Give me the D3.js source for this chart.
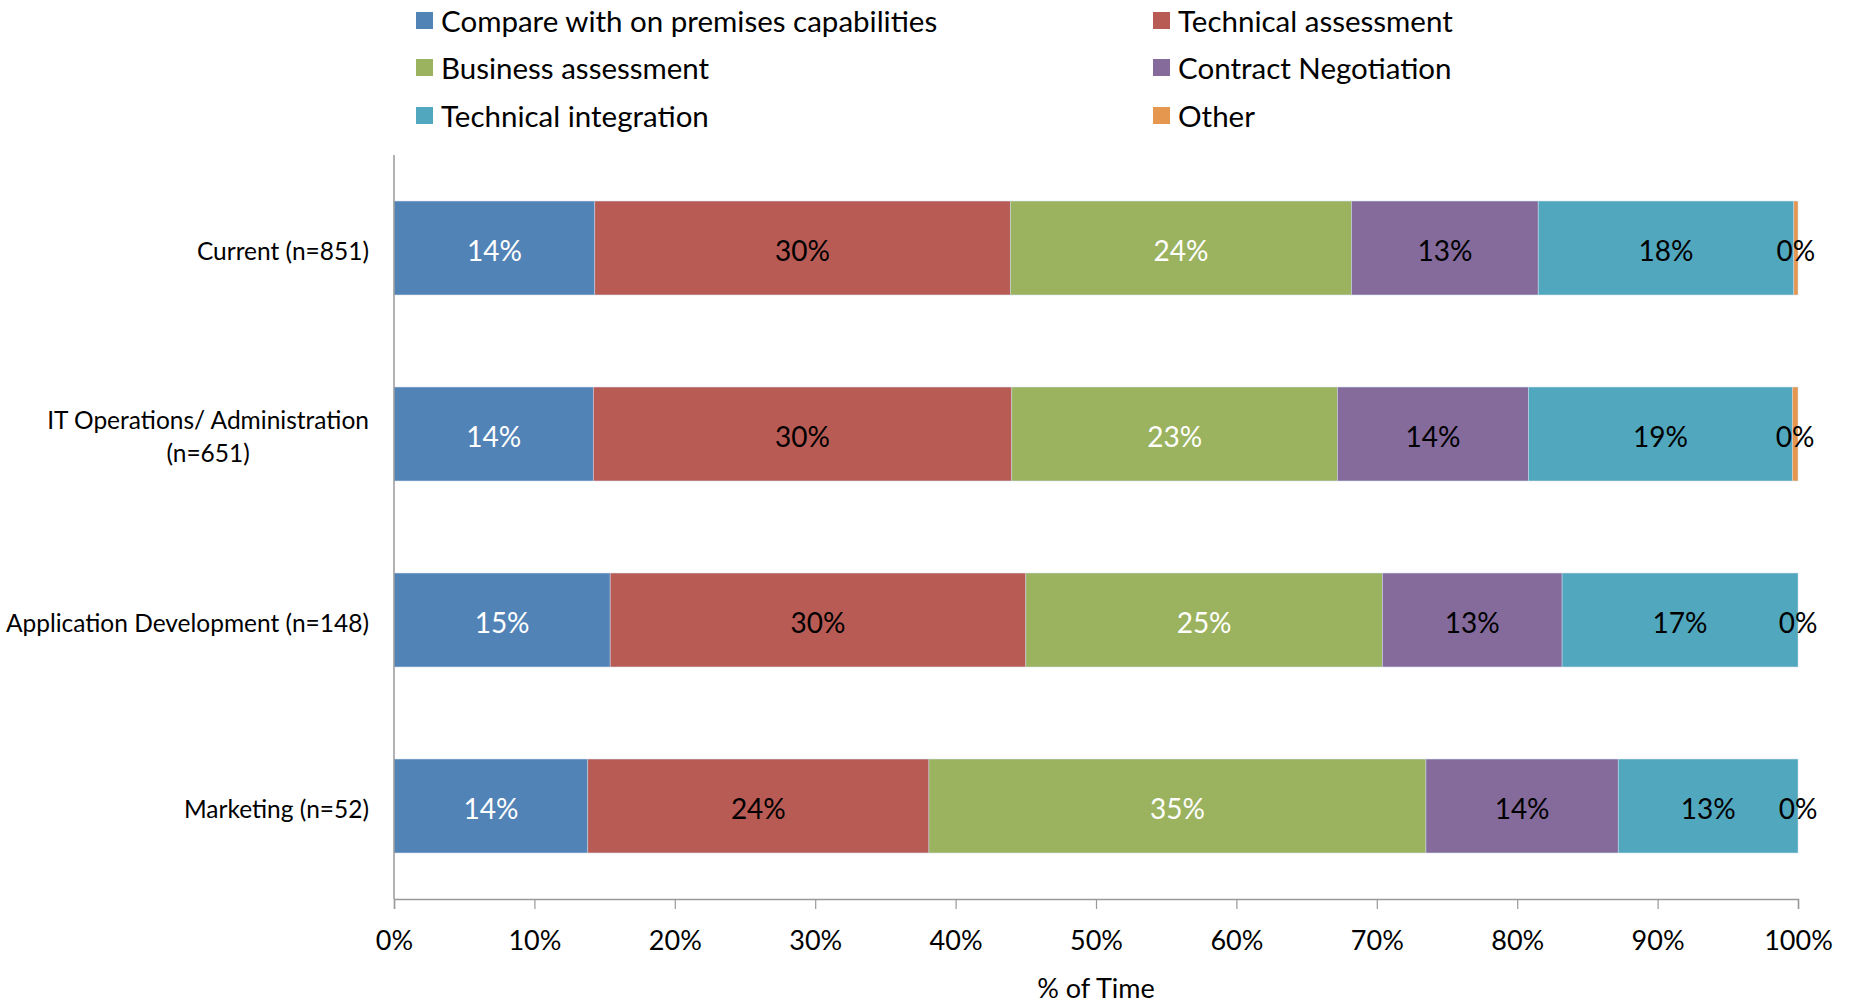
<!DOCTYPE html>
<html>
<head>
<meta charset="utf-8">
<script src="https://cdn.jsdelivr.net/npm/d3@7"></script>
<style>
  html, body { margin: 0; padding: 0; background: #fff; }
  svg { display: block; }
  text { font-family: "Lato", "Liberation Sans", sans-serif; }
</style>
</head>
<body>
<svg id="chart" width="1855" height="1002"></svg>
<script>
// Respondent groups (top to bottom)
const categories = [
  "Current (n=851)",
  "IT Operations/ Administration (n=651)",
  "Application Development (n=148)",
  "Marketing (n=52)"
];

// Activities, in stacking order
const seriesNames = [
  "Compare with on premises capabilities",
  "Technical assessment",
  "Business assessment",
  "Contract Negotiation",
  "Technical integration",
  "Other"
];

// Share of time (%) per activity, one entry per group
const compareOnPrem   = [14.3, 14.2, 15.4, 13.8];
const technicalAssess = [29.6, 29.8, 29.6, 24.3];
const businessAssess  = [24.3, 23.2, 25.4, 35.4];
const contractNeg     = [13.3, 13.6, 12.8, 13.7];
const techIntegration = [18.2, 18.8, 16.8, 12.8];
const other           = [0.3, 0.4, 0.0, 0.0];

const xTicks = [0, 10, 20, 30, 40, 50, 60, 70, 80, 90, 100];

const seriesValues = [compareOnPrem, technicalAssess, businessAssess, contractNeg, techIntegration, other];
const colors = ["#5283B6", "#B95B55", "#9BB25F", "#846B9C", "#51A7BE", "#E5974F"];
const labelColors = ["#fff", "#000", "#fff", "#000", "#000", "#000"];

// Build rows for d3.stack
const rows = categories.map((c, i) => {
  const r = { category: c };
  seriesNames.forEach((s, j) => { r[s] = seriesValues[j][i]; });
  return r;
});
const stacked = d3.stack().keys(seriesNames)(rows);

const svg = d3.select("#chart");
const plot = { left: 394, right: 1798, top: 155, bottom: 899 };

const x = d3.scaleLinear().domain([0, 100]).range([plot.left, plot.right]);
const y = d3.scaleBand().domain(categories)
  .range([plot.top, plot.bottom])
  .paddingInner(0.495).paddingOuter(0.2475);

// Bars
const layers = svg.append("g").selectAll("g")
  .data(stacked).join("g")
  .attr("fill", (d, i) => colors[i]);

layers.selectAll("rect")
  .data(d => d)
  .join("rect")
  .attr("x", d => x(d[0]))
  .attr("y", d => y(d.data.category))
  .attr("width", d => Math.max(0, x(d[1]) - x(d[0])))
  .attr("height", y.bandwidth())
  .attr("stroke", "#cfe0ee")
  .attr("stroke-width", 0.8)
  .attr("stroke-opacity", 0.6);

// Value labels
stacked.forEach((layer, i) => {
  svg.append("g").selectAll("text")
    .data(layer).join("text")
    .attr("x", d => x((d[0] + d[1]) / 2))
    .attr("y", d => y(d.data.category) + y.bandwidth() / 2 + 2)
    .attr("text-anchor", "middle")
    .attr("dominant-baseline", "central")
    .attr("font-size", 28)
    .attr("fill", labelColors[i])
    .text(d => Math.round(d[1] - d[0]) + "%");
});

// X axis
const xAxis = d3.axisBottom(x)
  .tickValues(xTicks)
  .tickFormat(d => d + "%")
  .tickSize(10)
  .tickPadding(22);
const gx = svg.append("g")
  .attr("transform", `translate(0,${plot.bottom})`)
  .call(xAxis);
gx.select(".domain").attr("stroke", "#999").attr("stroke-width", 1.5);
gx.selectAll(".tick line").attr("stroke", "#999").attr("stroke-width", 1.2);
gx.selectAll(".tick text").attr("font-size", 27).attr("fill", "#000")
  .attr("font-family", "Lato, 'Liberation Sans', sans-serif");

// Y axis line (no ticks)
svg.append("line")
  .attr("x1", plot.left).attr("x2", plot.left)
  .attr("y1", plot.top).attr("y2", plot.bottom)
  .attr("stroke", "#999").attr("stroke-width", 1.5);

// Category labels
const labelRight = 369;
const catFont = 24.5;
categories.forEach(c => {
  const cy = y(c) + y.bandwidth() / 2 + 2;
  if (c.startsWith("IT Operations")) {
    const line1 = "IT Operations/ Administration";
    const line2 = "(n=651)";
    const t1 = svg.append("text")
      .attr("x", labelRight).attr("y", cy - 17)
      .attr("text-anchor", "end").attr("dominant-baseline", "central")
      .attr("font-size", catFont).text(line1);
    const w = t1.node().getComputedTextLength();
    svg.append("text")
      .attr("x", labelRight - w / 2).attr("y", cy + 16)
      .attr("text-anchor", "middle").attr("dominant-baseline", "central")
      .attr("font-size", catFont).text(line2);
  } else {
    svg.append("text")
      .attr("x", labelRight).attr("y", cy)
      .attr("text-anchor", "end").attr("dominant-baseline", "central")
      .attr("font-size", catFont).text(c);
  }
});

// Axis title
svg.append("text")
  .attr("x", (plot.left + plot.right) / 2)
  .attr("y", 987)
  .attr("text-anchor", "middle").attr("dominant-baseline", "central")
  .attr("font-size", 27).text("% of Time");

// Legend: two columns, three rows
const legendCols = [416, 1153];
const legendRows = [20, 67, 115];
const legend = svg.append("g").selectAll("g")
  .data(seriesNames).join("g")
  .attr("transform", (d, i) => `translate(${legendCols[i % 2]},${legendRows[Math.floor(i / 2)]})`);
legend.append("rect")
  .attr("x", 0).attr("y", -8).attr("width", 17).attr("height", 17)
  .attr("fill", (d, i) => colors[i]);
legend.append("text")
  .attr("x", 25).attr("y", 0)
  .attr("dominant-baseline", "central")
  .attr("font-size", 29.5)
  .text(d => d);
</script>
</body>
</html>
